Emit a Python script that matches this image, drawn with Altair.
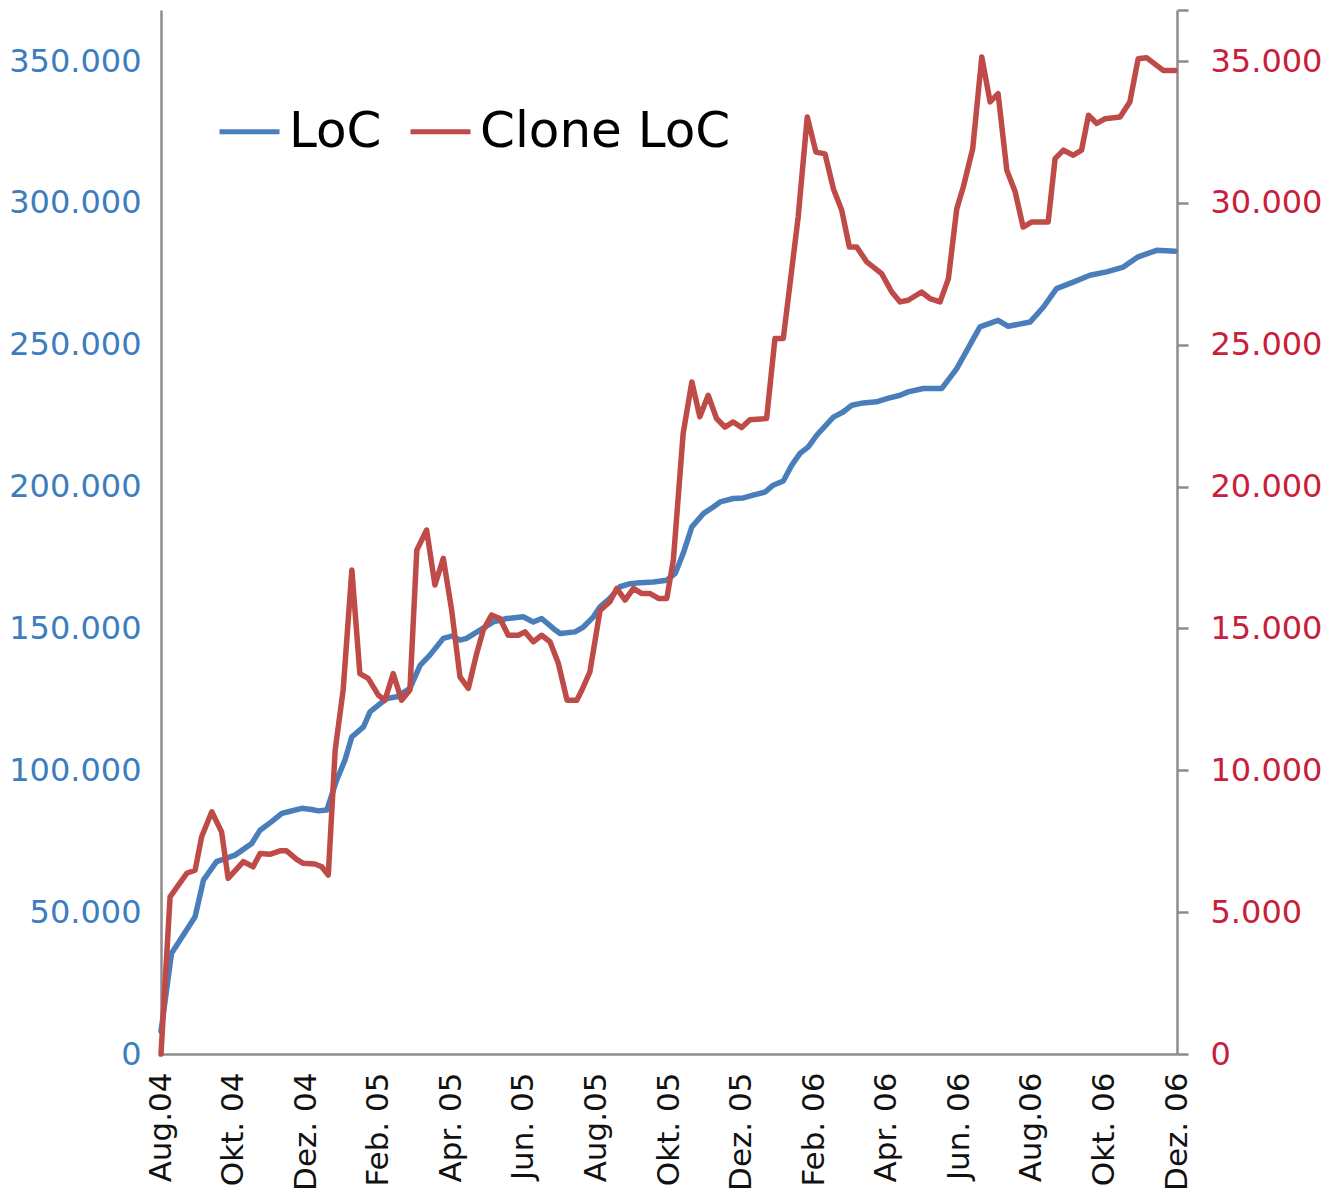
import altair as alt
import pandas as pd

# x position in months since Aug. 2004 (0 = Aug.04, 28 = Dez.06)
loc_month = [0, 0.29, 0.94, 1.17, 1.53, 2.04, 2.50, 2.73, 3.05, 3.33, 3.51, 3.88, 4.15, 4.34, 4.57,
             4.84, 5.07, 5.26, 5.58, 5.76, 5.99, 6.22, 6.50, 6.86, 7.14, 7.41, 7.78, 8.01, 8.24, 8.42,
             8.79, 9.16, 9.53, 9.98, 10.26, 10.49, 10.81, 11.00, 11.41, 11.64, 11.91, 12.10, 12.37,
             12.65, 12.93, 13.20, 13.57, 13.94, 14.17, 14.39, 14.63, 14.95, 15.22, 15.41, 15.77,
             16.05, 16.32, 16.65, 16.87, 17.15, 17.38, 17.61, 17.84, 18.07, 18.53, 18.80, 19.04,
             19.35, 19.72, 20.00, 20.37, 20.59, 21.01, 21.52, 21.93, 22.34, 22.57, 23.07, 23.35,
             23.95, 24.32, 24.68, 25.14, 25.60, 26.06, 26.52, 26.93, 27.44, 27.94]
loc_value = [8000, 35500, 48400, 61300, 67800, 70100, 74200, 78900, 81900, 84800, 85400, 86600,
             86200, 85700, 86000, 96500, 103600, 111800, 115300, 120600, 123000, 125300, 125900,
             128900, 137000, 140600, 146500, 147300, 145900, 146500, 149400, 152300, 153500,
             154100, 152300, 153500, 150000, 148200, 148800, 150500, 154000, 157600, 160600,
             164700, 165800, 166100, 166400, 167000, 169400, 176400, 185800, 190500, 192800,
             194600, 195800, 196000, 197000, 198100, 200500, 202000, 207500, 211700, 214000,
             218100, 224500, 226300, 228700, 229500, 229900, 231000, 232200, 233400, 234600,
             234600, 241600, 251000, 256300, 258600, 256500, 258000, 263300, 269800, 272100,
             274500, 275700, 277400, 281000, 283300, 283000]

clone_month = [0, 0.25, 0.71, 0.94, 1.12, 1.40, 1.67, 1.85, 2.27, 2.54, 2.73, 3.00, 3.28, 3.46,
               3.74, 3.92, 4.24, 4.43, 4.61, 4.80, 5.02, 5.26, 5.48, 5.71, 5.99, 6.17, 6.40, 6.63,
               6.86, 7.05, 7.32, 7.55, 7.78, 8.01, 8.24, 8.47, 8.70, 8.88, 9.11, 9.34, 9.57, 9.85,
               10.03, 10.26, 10.49, 10.72, 10.95, 11.19, 11.46, 11.60, 11.82, 12.10, 12.37, 12.56,
               12.79, 13.02, 13.25, 13.48, 13.71, 13.94, 14.12, 14.39, 14.63, 14.85, 15.08, 15.31,
               15.54, 15.77, 16.00, 16.23, 16.69, 16.92, 17.15, 17.56, 17.81, 18.05, 18.30, 18.53,
               18.76, 18.97, 19.17, 19.45, 19.86, 20.14, 20.37, 20.59, 20.96, 21.19, 21.47, 21.70,
               21.93, 22.11, 22.37, 22.62, 22.85, 23.07, 23.31, 23.54, 23.76, 24.00, 24.45, 24.64,
               24.87, 25.14, 25.37, 25.56, 25.79, 26.02, 26.43, 26.70, 26.93, 27.16, 27.62, 27.94]
clone_value = [0, 5540, 6370, 6480, 7660, 8540, 7830, 6190, 6780, 6600, 7070, 7040, 7160, 7160,
               6860, 6720, 6700, 6600, 6310, 10710, 12830, 17060, 13410, 13240, 12650, 12470,
               13410, 12470, 12830, 17760, 18470, 16530, 17470, 15650, 13290, 12890, 14120, 14940,
               15470, 15350, 14760, 14760, 14880, 14530, 14760, 14530, 13770, 12470, 12470, 12830,
               13470, 15640, 15940, 16410, 16000, 16410, 16230, 16230, 16060, 16060, 17410, 21870,
               23690, 22460, 23220, 22400, 22100, 22280, 22080, 22360, 22400, 25220, 25220, 29500,
               33030, 31790, 31730, 30500, 29740, 28450, 28450, 27920, 27510, 26860, 26510, 26570,
               26860, 26630, 26510, 27330, 29790, 30560, 31910, 35140, 33560, 33850, 31150, 30390,
               29150, 29330, 29330, 31560, 31860, 31680, 31860, 33090, 32800, 32970, 33030, 33560,
               35080, 35120, 34670, 34670]

month_labels = ["Aug.04", "Okt. 04", "Dez. 04", "Feb. 05", "Apr. 05", "Jun. 05", "Aug.05",
                "Okt. 05", "Dez. 05", "Feb. 06", "Apr. 06", "Jun. 06", "Aug.06", "Okt. 06",
                "Dez. 06"]
series_names = ["LoC", "Clone LoC"]
series_colors = ["#4A7EBB", "#BE4B48"]

assert len(loc_month) == len(loc_value)
assert len(clone_month) == len(clone_value)

rows = [{"m": m, "value": v, "series": "LoC"} for m, v in zip(loc_month, loc_value)]
rows += [{"m": m, "value": v, "series": "Clone LoC"} for m, v in zip(clone_month, clone_value)]
df = pd.DataFrame(rows)

FONT = "DejaVu Sans"
GRAY = "#8C8C8C"

label_arr = "[" + ",".join("'" + s + "'" for s in month_labels) + "]"
x_enc = alt.X(
    "m:Q",
    scale=alt.Scale(domain=[0, 28], nice=False, zero=False),
    axis=alt.Axis(
        values=list(range(0, 29, 2)),
        labelExpr=label_arr + "[round(datum.value / 2)]",
        labelAngle=270,
        ticks=False,
        grid=False,
        title=None,
        domainColor=GRAY,
        domainWidth=2.5,
        labelFont=FONT,
        labelFontSize=31,
        labelColor="#111111",
        labelPadding=18,
        labelOverlap=False,
    ),
)

color_enc = alt.Color(
    "series:N",
    scale=alt.Scale(domain=series_names, range=series_colors),
    legend=alt.Legend(
        title=None,
        orient="none",
        legendX=56,
        legendY=89,
        direction="horizontal",
        symbolType="stroke",
        symbolSize=3600,
        symbolStrokeWidth=5,
        labelFont=FONT,
        labelFontSize=50,
        labelColor="#000000",
        labelOffset=7,
        labelLimit=0,
        columnPadding=18,
    ),
)

base = alt.Chart(df)

left = base.transform_filter(alt.datum.series == "LoC").mark_line(
    strokeWidth=5.5, strokeJoin="round", strokeCap="round"
).encode(
    x=x_enc,
    y=alt.Y(
        "value:Q",
        scale=alt.Scale(domain=[0, 368000], nice=False),
        axis=alt.Axis(
            orient="left",
            values=list(range(0, 350001, 50000)),
            labelExpr="replace(format(datum.value, ','), ',', '.')",
            ticks=False,
            grid=False,
            title=None,
            domainColor=GRAY,
            domainWidth=2.5,
            labelFont=FONT,
            labelFontSize=32,
            labelColor="#3C7DC0",
            labelPadding=20,
        ),
    ),
    color=color_enc,
)

right = base.transform_filter(alt.datum.series == "Clone LoC").mark_line(
    strokeWidth=5.5, strokeJoin="round", strokeCap="round"
).encode(
    x=x_enc,
    y=alt.Y(
        "value:Q",
        scale=alt.Scale(domain=[0, 36800], nice=False),
        axis=alt.Axis(
            orient="right",
            values=list(range(0, 35001, 5000)) + [36800],
            labelExpr="datum.value > 35000 ? '' : replace(format(datum.value, ','), ',', '.')",
            ticks=True,
            tickSize=11,
            tickWidth=2.5,
            tickColor=GRAY,
            grid=False,
            title=None,
            domainColor=GRAY,
            domainWidth=2.5,
            labelFont=FONT,
            labelFontSize=32,
            labelColor="#C8203A",
            labelPadding=22,
        ),
    ),
    color=color_enc,
)

chart = alt.layer(left, right).resolve_scale(y="independent").properties(
    width=1016,
    height=1044,
    padding={"left": 0, "top": 0, "right": 0, "bottom": 0},
).configure_view(stroke=None)

chart.save("out.html", embed_options={"renderer": "svg", "actions": False})
